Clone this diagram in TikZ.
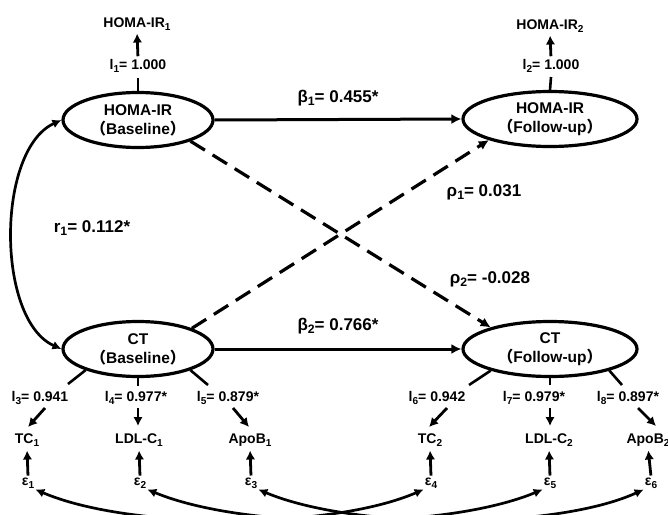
\documentclass[tikz,border=0pt]{standalone}
\usepackage{fontspec}
\setmainfont{Liberation Sans}
\newfontfamily\cjk{Noto Sans CJK SC}
\usetikzlibrary{shapes.geometric,arrows.meta}
\newcommand\lowidx[1]{\raisebox{-0.4ex}{\scalebox{0.72}{#1}}}
\newcommand\fwl{{\cjk （}}
\newcommand\fwr{{\cjk ）}}
\begin{document}
\begin{tikzpicture}[x=1pt,y=-1pt,
  lat/.style={ellipse,draw,line width=3.2pt,inner sep=0pt,align=center,
    font=\fontsize{15.5}{19}\selectfont\bfseries},
  latb/.style={lat,minimum width=150pt,minimum height=55pt},
  latf/.style={lat,minimum width=174pt,minimum height=55pt},
  small/.style={inner sep=1pt,font=\fontsize{14}{14}\selectfont\bfseries},
  big/.style={inner sep=1pt,font=\fontsize{17}{17}\selectfont\bfseries},
  arr/.style={line width=3pt,-{Latex[length=10pt,width=10pt]}},
  sarr/.style={line width=2.8pt,-{Latex[length=9pt,width=9.5pt]}},
  seg/.style={line width=2.6pt},
  dsh/.style={line width=3.2pt,dash pattern=on 17pt off 9pt,-{Latex[length=10pt,width=10pt]}},
  cov/.style={line width=2.7pt,{Latex[length=9pt,width=9pt]}-{Latex[length=9pt,width=9pt]}},
]
\useasboundingbox (0,0) rectangle (668,514);
\clip (0,0) rectangle (668,514);

% latent variables
\node[latb] (hb) at (138,120) {HOMA-IR\\\fwl Baseline\fwr};
\node[latf] (hf) at (550,119) {HOMA-IR\\\fwl Follow-up\fwr};
\node[latb] (cb) at (138,349) {CT\\\fwl Baseline\fwr};
\node[latf] (cf) at (550,349) {CT\\\fwl Follow-up\fwr};

% HOMA-IR indicators
\node[small] (o1) at (137,24) {HOMA-IR\lowidx{1}};
\node[small] (l1) at (138,66) {l\lowidx{1}= 1.000};
\coordinate (t1) at (138,78);
\draw[seg] (hb.north) -- (t1);
\draw[sarr,shorten <=2pt,shorten >=2pt] (l1.north) -- (o1.south);
\node[small] (o2) at (550,26) {HOMA-IR\lowidx{2}};
\node[small] (l2) at (551,66) {l\lowidx{2}= 1.000};
\coordinate (t2) at (551,77);
\draw[seg] (hf.north) -- (t2);
\draw[sarr,shorten <=2pt,shorten >=2pt] (l2.north) -- (o2.south);

% structural paths
\draw[arr] (hb.east) -- (hf.west);
\draw[arr] (cb.east) -- (cf.west);
\node[big] (b1) at (338,98) {β\lowidx{1}= 0.455*};
\node[big] (b2) at (338,326) {β\lowidx{2}= 0.766*};
\draw[dsh] (hb.-22) -- (cf.160);
\draw[dsh] (cb.21) -- (hf.-161);
\node[big] (p1) at (484,192) {ρ\lowidx{1}= 0.031};
\node[big] (p2) at (490,279) {ρ\lowidx{2}= -0.028};
\draw[cov] (hb.west) .. controls (-4,150) and (-4,320) .. (cb.west);
\node[big] (r1) at (92,228) {r\lowidx{1}= 0.112*};

% CT indicators (baseline)
\node[small] (l3) at (40,398) {l\lowidx{3}= 0.941};
\node[small] (l4) at (136,398) {l\lowidx{4}= 0.977*};
\node[small] (l5) at (228,398) {l\lowidx{5}= 0.879*};
\coordinate (t3) at (68,384);
\coordinate (t4) at (138,386);
\coordinate (t5) at (208,385);
\draw[seg] (cb.-158) -- (t3);
\draw[seg] (cb.south) -- (t4);
\draw[seg] (cb.-22) -- (t5);
\node[small] (x1) at (27,440) {TC\lowidx{1}};
\node[small] (x2) at (139,440) {LDL-C\lowidx{1}};
\node[small] (x3) at (250,440) {ApoB\lowidx{1}};
\coordinate (a3s) at (45,408); \coordinate (a3e) at (28,427);
\coordinate (a4s) at (138,408); \coordinate (a4e) at (138,426);
\coordinate (a5s) at (233,408); \coordinate (a5e) at (249,427);
\draw[sarr] (a3s) -- (a3e);
\draw[sarr] (a4s) -- (a4e);
\draw[sarr] (a5s) -- (a5e);

% CT indicators (follow-up)
\node[small] (l6) at (437,398) {l\lowidx{6}= 0.942};
\node[small] (l7) at (534,398) {l\lowidx{7}= 0.979*};
\node[small] (l8) at (628,398) {l\lowidx{8}= 0.897*};
\coordinate (t6) at (469,385);
\coordinate (t7) at (550,385);
\coordinate (t8) at (622,385);
\draw[seg] (cf.200) -- (t6);
\draw[seg] (cf.south) -- (t7);
\draw[seg] (cf.-20) -- (t8);
\node[small] (x4) at (430,440) {TC\lowidx{2}};
\node[small] (x5) at (549,440) {LDL-C\lowidx{2}};
\node[small] (x6) at (648,440) {ApoB\lowidx{2}};
\coordinate (a6s) at (447,408); \coordinate (a6e) at (429,427);
\coordinate (a7s) at (550,408); \coordinate (a7e) at (550,426);
\coordinate (a8s) at (638,408); \coordinate (a8e) at (656,426);
\draw[sarr] (a6s) -- (a6e);
\draw[sarr] (a7s) -- (a7e);
\draw[sarr] (a8s) -- (a8e);

% errors
\node[small] (e1) at (28,483) {ε\lowidx{1}};
\node[small] (e2) at (140,483) {ε\lowidx{2}};
\node[small] (e3) at (251,483) {ε\lowidx{3}};
\node[small] (e4) at (431,483) {ε\lowidx{4}};
\node[small] (e5) at (550,483) {ε\lowidx{5}};
\node[small] (e6) at (651,483) {ε\lowidx{6}};
\foreach \e/\x in {e1/x1,e2/x2,e3/x3,e4/x4,e5/x5,e6/x6}
  \draw[sarr,shorten <=1pt,shorten >=3pt] (\e.north) -- (\x.south);

% error covariances
\draw[cov] (e1.south east) .. controls (130,530) and (330,530) .. (e4.south west);
\draw[cov] (e2.south east) .. controls (245,530) and (445,530) .. (e5.south west);
\draw[cov] (e3.south east) .. controls (355,530) and (555,530) .. (e6.south west);
\end{tikzpicture}
\end{document}
